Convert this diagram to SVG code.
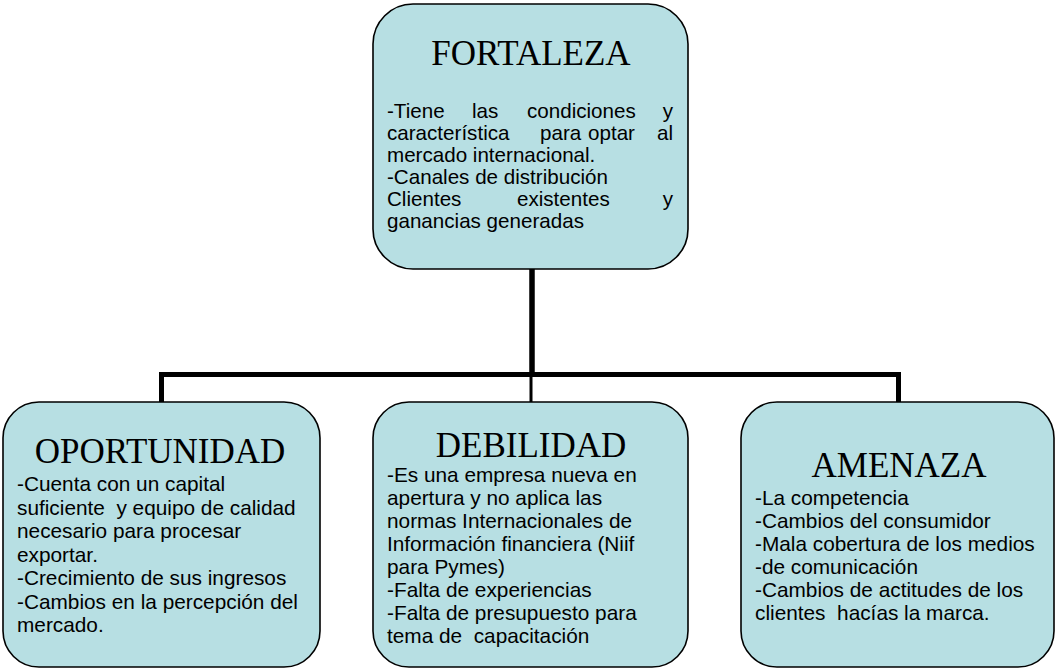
<svg xmlns="http://www.w3.org/2000/svg" width="1056" height="668" viewBox="0 0 1056 668">
<style>
.box{fill:#b7dfe3;stroke:#000;stroke-width:1.6}
.title{font-family:"Liberation Serif","Times New Roman",serif;font-size:35px;fill:#000;text-anchor:middle}
.body{font-family:"Liberation Sans",Arial,sans-serif;font-size:20.8px;fill:#000;white-space:pre}
.top{font-size:20.6px}
.end{text-anchor:end}
.conn{stroke:#000;fill:none;stroke-linecap:butt}
</style>
<rect width="1056" height="668" fill="#fff"/>
<g id="connectors">
<line class="conn" x1="532" y1="268" x2="532" y2="377" stroke-width="5.5"/>
<polyline class="conn" points="161.5,402 161.5,374.5 898.5,374.5 898.5,402" stroke-width="5" stroke-linejoin="miter"/>
<line class="conn" x1="531" y1="374" x2="531" y2="402" stroke-width="3"/>
</g>
<g id="fortaleza">
<rect class="box" x="373" y="4" width="315" height="265" rx="40" ry="40"/>
<text class="title" x="531" y="65">FORTALEZA</text>
<text class="body top" x="387" y="118">-Tiene</text>
<text class="body top" x="472" y="118">las</text>
<text class="body top" x="527" y="118">condiciones</text>
<text class="body top end" x="673" y="118">y</text>
<text class="body top" x="387" y="140">característica</text>
<text class="body top" x="540" y="140">para</text>
<text class="body top" x="588" y="140">optar</text>
<text class="body top end" x="673" y="140">al</text>
<text class="body top" x="387" y="162">mercado internacional.</text>
<text class="body top" x="387" y="184">-Canales de distribución</text>
<text class="body top" x="387" y="206">Clientes</text>
<text class="body top" x="517" y="206">existentes</text>
<text class="body top end" x="673" y="206">y</text>
<text class="body top" x="387" y="228">ganancias generadas</text>
</g>
<g id="oportunidad">
<rect class="box" x="3" y="402" width="317" height="265" rx="36" ry="36"/>
<text class="title" x="160" y="463">OPORTUNIDAD</text>
<text class="body" x="17" y="491">-Cuenta con un capital</text>
<text class="body" x="17" y="514.5">suficiente  y equipo de calidad</text>
<text class="body" x="17" y="538">necesario para procesar</text>
<text class="body" x="17" y="561.5">exportar.</text>
<text class="body" x="17" y="585">-Crecimiento de sus ingresos</text>
<text class="body" x="17" y="608.5">-Cambios en la percepción del</text>
<text class="body" x="17" y="632">mercado.</text>
</g>
<g id="debilidad">
<rect class="box" x="373" y="402" width="315" height="265" rx="36" ry="36"/>
<text class="title" x="531" y="457">DEBILIDAD</text>
<text class="body" x="387" y="482">-Es una empresa nueva en</text>
<text class="body" x="387" y="505">apertura y no aplica las</text>
<text class="body" x="387" y="528">normas Internacionales de</text>
<text class="body" x="387" y="551">Información financiera (Niif</text>
<text class="body" x="387" y="574">para Pymes)</text>
<text class="body" x="387" y="597">-Falta de experiencias</text>
<text class="body" x="387" y="620">-Falta de presupuesto para</text>
<text class="body" x="387" y="643">tema de  capacitación</text>
</g>
<g id="amenaza">
<rect class="box" x="741" y="402" width="313" height="265" rx="36" ry="36"/>
<text class="title" x="899" y="477">AMENAZA</text>
<text class="body" x="755" y="505">-La competencia</text>
<text class="body" x="755" y="528">-Cambios del consumidor</text>
<text class="body" x="755" y="551">-Mala cobertura de los medios</text>
<text class="body" x="755" y="574">-de comunicación</text>
<text class="body" x="755" y="597">-Cambios de actitudes de los</text>
<text class="body" x="755" y="620">clientes  hacías la marca.</text>
</g>
</svg>
